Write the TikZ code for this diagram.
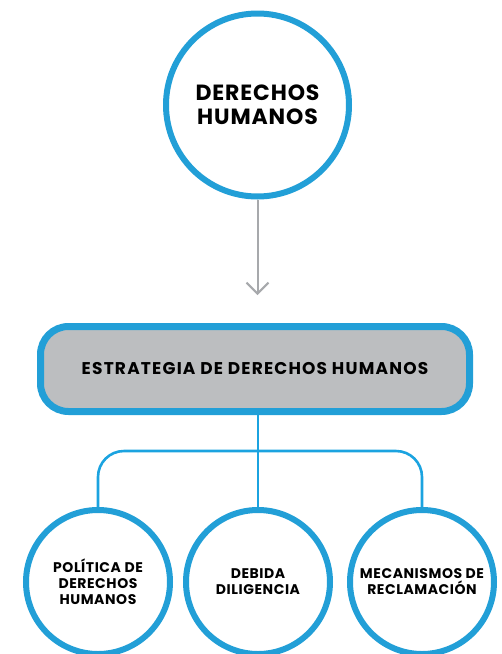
\documentclass[tikz,border=0pt]{standalone}
\usepackage{fontspec}
\setmainfont{Poppins}
\usetikzlibrary{arrows.meta,backgrounds}
\definecolor{ringblue}{HTML}{229FD7}
\definecolor{lineblue}{HTML}{1BA3E0}
\definecolor{arrowgray}{HTML}{A7A9AC}
\definecolor{boxgray}{HTML}{BCBEC0}
\tikzset{
  bigring/.style={circle, draw=ringblue, line width=6pt, fill=white, minimum size=183pt, inner sep=0pt, align=center, font=\bfseries\fontsize{22}{24}\selectfont\addfontfeatures{LetterSpace=4}},
  smallring/.style={circle, draw=ringblue, line width=6pt, fill=white, minimum size=144pt, inner sep=0pt, align=center, font=\bfseries\fontsize{14}{16}\selectfont\addfontfeatures{LetterSpace=4}},
  stratbox/.style={rectangle, draw=ringblue, line width=7pt, fill=boxgray, rounded corners=28pt, minimum width=429pt, minimum height=85pt, inner sep=0pt, font=\bfseries\fontsize{17}{18}\selectfont\addfontfeatures{LetterSpace=7}},
  conn/.style={draw=lineblue, line width=2.6pt},
  grayarrow/.style={draw=arrowgray, line width=2pt, -{Straight Barb[length=11pt, width=22pt, line width=2pt]}}
}
\begin{document}
\begin{tikzpicture}[x=1pt, y=-1pt]
  \useasboundingbox (0,0) rectangle (502,654);
  \node[bigring] (dh) at (257.5,105) {DERECHOS\\HUMANOS};
  \coordinate (arrowend) at (257.5,295);
  \draw[grayarrow] (dh.south) -- (arrowend);
  \node[stratbox] (est) at (255,369) {ESTRATEGIA DE DERECHOS HUMANOS};
  \node[smallring] (pol) at (98,582) {POLÍTICA DE\\DERECHOS\\HUMANOS};
  \node[smallring] (deb) at (258,582) {DEBIDA\\DILIGENCIA};
  \node[smallring] (mec) at (422,582) {MECANISMOS DE\\RECLAMACIÓN};
  \coordinate (busy) at (0,451);
  \begin{pgfonlayer}{background}
    \draw[conn] (est.south -| deb.north) -- (deb.north);
    \draw[conn, rounded corners=26pt] (pol.north) -- (pol.north |- busy) -- (mec.north |- busy) -- (mec.north);
  \end{pgfonlayer}
\end{tikzpicture}
\end{document}
